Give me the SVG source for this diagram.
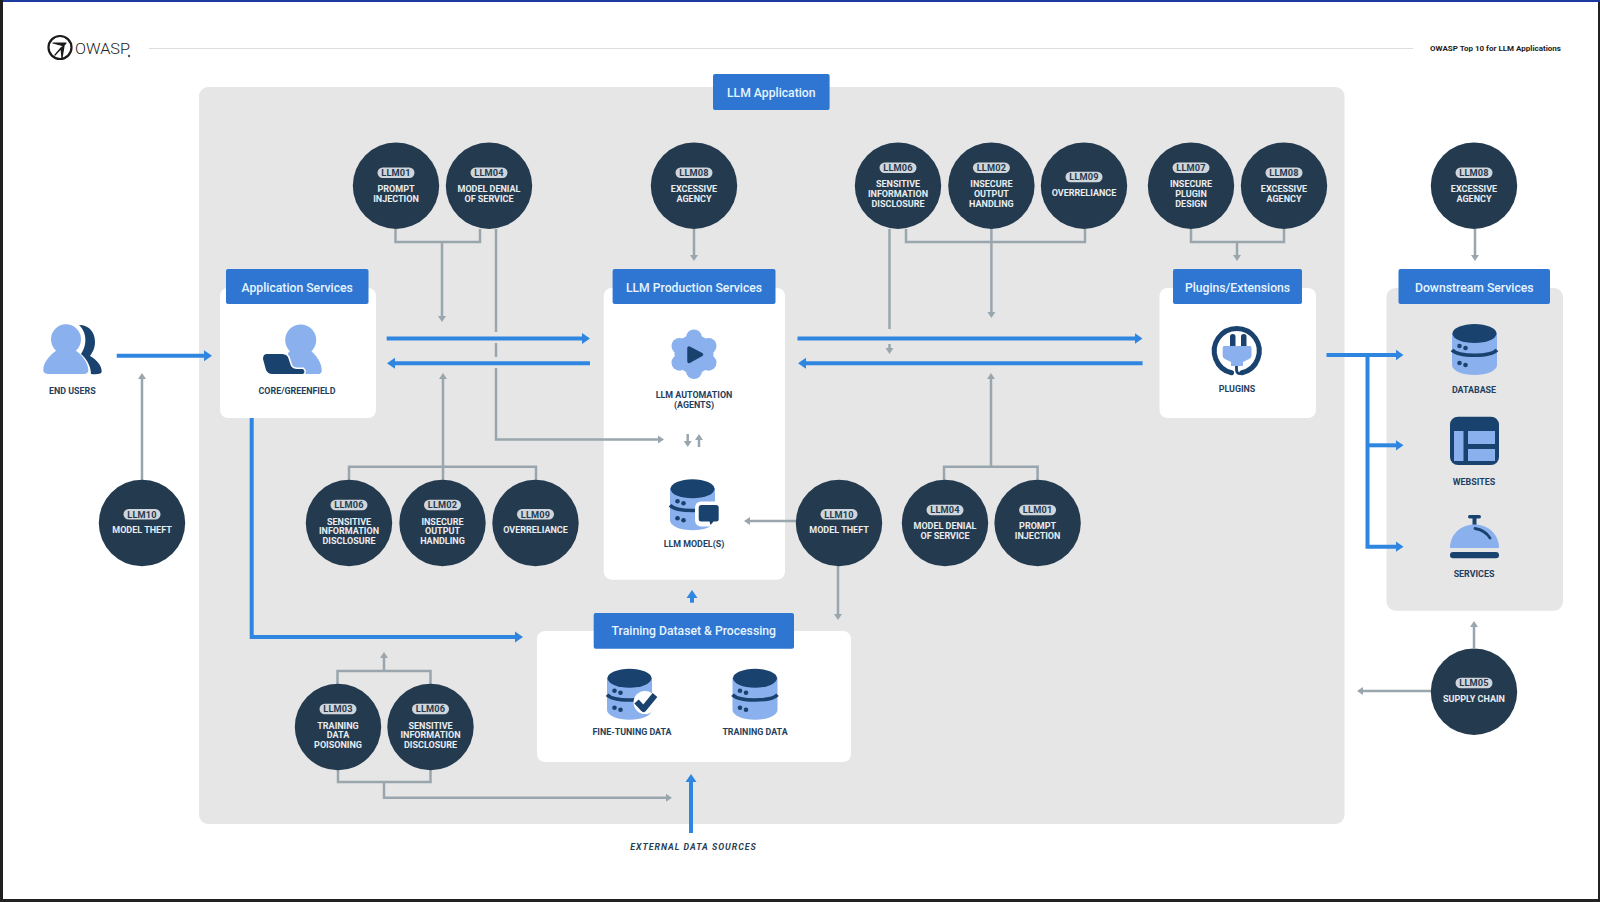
<svg xmlns="http://www.w3.org/2000/svg" xmlns:xlink="http://www.w3.org/1999/xlink" width="1600" height="902" viewBox="0 0 1600 902">
<style>
text{font-family:Roboto,"Liberation Sans",sans-serif;text-anchor:middle}
.risk{fill:#243a4f}
.pill{fill:#cfd5da}
.pt{font-size:9.2px;font-weight:700;fill:#243a4f;letter-spacing:.2px}
.rt{font-size:9px;font-weight:700;fill:#e9edf0}
.hd{fill:#2f76d2}
.ht{font-size:12.200px;font-weight:500;fill:#e6f4ff}
.card{fill:#fff}
.lb{font-size:8.9px;font-weight:700;fill:#1f3f60}
.g{fill:none;stroke:#9aa6ad;stroke-width:2.5}
.ga{marker-end:url(#ag)}
.b{fill:none;stroke:#2f86e0;stroke-width:4}
.ba{marker-end:url(#ab)}
.l{fill:#8ab0ee}
.d{fill:#1a426f}
</style>
<defs>
<marker id="ag" markerUnits="userSpaceOnUse" markerWidth="8" markerHeight="9" refX="1" refY="4.5" orient="auto"><path d="M0,0.5L6,4.5L0,8.5Z" fill="#9aa6ad"/></marker>
<marker id="ab" markerUnits="userSpaceOnUse" markerWidth="10" markerHeight="12" refX="1" refY="6" orient="auto"><path d="M0,0.5L8,6L0,11.5Z" fill="#2f86e0"/></marker>
<g id="db">
<path class="l" d="M-22.500,9V41C-22.500,47 -12,51 0,51C12,51 22.500,47 22.500,41V9Z"/>
<ellipse class="d" cx="0" cy="9.500" rx="22" ry="9.500"/>
<path d="M-22.500,26C-16,33 16,33 22.500,26" fill="none" stroke="#1a426f" stroke-width="3.600"/>
<circle class="d" cx="-15" cy="22" r="2.300"/><circle class="d" cx="-9" cy="24" r="2.300"/>
<circle class="d" cx="-15" cy="39" r="2.300"/><circle class="d" cx="-9" cy="41" r="2.300"/>
</g>
</defs>
<rect width="1600" height="902" fill="#fff"/>
<g id="frame">
<rect x="0" y="0" width="1600" height="2" fill="#1c3aa0"/>
<rect x="0" y="0" width="3" height="902" fill="#1f1f1f"/>
<rect x="0" y="899" width="1600" height="3" fill="#222"/>
<rect x="1598" y="2" width="2" height="900" fill="#222"/>
</g>
<g id="title-bar">
<circle cx="60" cy="47.500" r="11.500" fill="none" stroke="#1a1a1a" stroke-width="2.200"/>
<path d="M53,43H66L55,55L61,48L62,58L64,46Z" fill="#1a1a1a" stroke="#1a1a1a" stroke-width="1.200" stroke-linejoin="round"/>
<text x="102.500" y="54" textLength="55" lengthAdjust="spacingAndGlyphs" style="font-size:15px;font-weight:300;fill:#222">OWASP</text>
<circle cx="129" cy="56" r="1.200" fill="#555"/>
<path d="M149,48.500H1413" stroke="#ddd" stroke-width="1.200"/>
<text x="1495.500" y="51" style="font-size:8px;font-weight:700;fill:#222">OWASP Top 10 for LLM Applications</text>
</g>
<rect id="panel" x="199" y="87" width="1145.500" height="737" rx="9" fill="#e6e6e6"/>
<rect id="downstream-panel" x="1386.500" y="288" width="176.500" height="322.700" rx="9" fill="#e6e6e6"/>
<g id="app-card"><rect class="card" x="220" y="288" width="156" height="130" rx="8"/></g>
<g id="prod-card"><rect class="card" x="603.700" y="288" width="181.300" height="291.700" rx="8"/></g>
<g id="plug-card"><rect class="card" x="1159.500" y="288" width="156.500" height="130" rx="8"/></g>
<g id="train-card"><rect class="card" x="537" y="631" width="314" height="131" rx="8"/></g>

<g id="connectors">
<path class="g ga" d="M395.500,229V242H480V229M442,242V317"/>
<path class="g" d="M496,229V332M496,343V357"/>
<path class="g ga" d="M496,368V439.500H659"/>
<path class="g ga" d="M694,229V256"/>
<path class="g" d="M889.500,229V329"/>
<path class="g ga" d="M889.500,344V349"/>
<path class="g" d="M906,229V242H1085V229"/>
<path class="g ga" d="M991.400,229V313"/>
<path class="g" d="M1191,229V242H1284V229"/>
<path class="g ga" d="M1237,242V256"/>
<path class="g ga" d="M1475,229V256"/>
<path class="g ga" d="M142,480V378"/>
<path class="g" d="M349,480V466.700H536V480M443,466.700V480"/>
<path class="g ga" d="M443,466.700V378"/>
<path class="g" d="M944,480V466.700H1037.600V480"/>
<path class="g ga" d="M991,466.700V378"/>
<path class="g ga" d="M796,521H749"/>
<path class="g ga" d="M838,566V615"/>
<path class="g" d="M337.500,684V671H430.500V684"/>
<path class="g ga" d="M384,671V657"/>
<path class="g" d="M338,770V782H430.500V770"/>
<path class="g ga" d="M384,782V797.700H667"/>
<path class="g ga" d="M1474,648V626"/>
<path class="g ga" d="M1431,691H1362"/>
<path class="g ga" d="M687.700,434V442"/>
<path class="g ga" d="M699,447V439"/>
<path class="b ba" d="M116.700,355.700H205"/>
<path class="b ba" d="M386.700,338.500H583"/>
<path class="b ba" d="M590,363.300H394"/>
<path class="b ba" d="M797.500,338.500H1135.500"/>
<path class="b ba" d="M1142.600,363.300H805"/>
<path class="b ba" d="M1326.500,355H1396.500"/>
<path class="b ba" d="M1367.500,445.300H1396.500"/>
<path class="b ba" d="M1367.500,355V546.700H1396.500"/>
<path class="b ba" d="M251.700,418V637H516"/>
<path class="b ba" d="M692,602.700V597"/>
<path class="b ba" d="M691,833V781"/>
</g>

<g id="risk-llm01-a" transform="translate(396,185.700)"><circle class="risk" r="43.200"/><rect class="pill" x="-18.500" y="-18.200" width="37" height="10.500" rx="5.200"/><text class="pt" y="-9.700">LLM01</text><text class="rt" y="6.200">PROMPT</text><text class="rt" y="16.200">INJECTION</text></g>
<g id="risk-llm04-a" transform="translate(489,185.700)"><circle class="risk" r="43.200"/><rect class="pill" x="-18.500" y="-18.200" width="37" height="10.500" rx="5.200"/><text class="pt" y="-9.700">LLM04</text><text class="rt" y="6.200">MODEL DENIAL</text><text class="rt" y="16.200">OF SERVICE</text></g>
<g id="risk-llm08-a" transform="translate(694,185.700)"><circle class="risk" r="43.200"/><rect class="pill" x="-18.500" y="-18.200" width="37" height="10.500" rx="5.200"/><text class="pt" y="-9.700">LLM08</text><text class="rt" y="6.200">EXCESSIVE</text><text class="rt" y="16.200">AGENCY</text></g>
<g id="risk-llm06-a" transform="translate(898,185.700)"><circle class="risk" r="43.200"/><rect class="pill" x="-18.500" y="-23.200" width="37" height="10.500" rx="5.200"/><text class="pt" y="-14.700">LLM06</text><text class="rt" y="1.500">SENSITIVE</text><text class="rt" y="11.300">INFORMATION</text><text class="rt" y="21.200">DISCLOSURE</text></g>
<g id="risk-llm02-a" transform="translate(991.400,185.700)"><circle class="risk" r="43.200"/><rect class="pill" x="-18.500" y="-23.200" width="37" height="10.500" rx="5.200"/><text class="pt" y="-14.700">LLM02</text><text class="rt" y="1.500">INSECURE</text><text class="rt" y="11.300">OUTPUT</text><text class="rt" y="21.200">HANDLING</text></g>
<g id="risk-llm09-a" transform="translate(1084,185.700)"><circle class="risk" r="43.200"/><rect class="pill" x="-18.500" y="-14" width="37" height="10.500" rx="5.200"/><text class="pt" y="-5.500">LLM09</text><text class="rt" y="10.300">OVERRELIANCE</text></g>
<g id="risk-llm07" transform="translate(1191,185.700)"><circle class="risk" r="43.200"/><rect class="pill" x="-18.500" y="-23.200" width="37" height="10.500" rx="5.200"/><text class="pt" y="-14.700">LLM07</text><text class="rt" y="1.500">INSECURE</text><text class="rt" y="11.300">PLUGIN</text><text class="rt" y="21.200">DESIGN</text></g>
<g id="risk-llm08-b" transform="translate(1284,185.700)"><circle class="risk" r="43.200"/><rect class="pill" x="-18.500" y="-18.200" width="37" height="10.500" rx="5.200"/><text class="pt" y="-9.700">LLM08</text><text class="rt" y="6.200">EXCESSIVE</text><text class="rt" y="16.200">AGENCY</text></g>
<g id="risk-llm08-c" transform="translate(1474,185.700)"><circle class="risk" r="43.200"/><rect class="pill" x="-18.500" y="-18.200" width="37" height="10.500" rx="5.200"/><text class="pt" y="-9.700">LLM08</text><text class="rt" y="6.200">EXCESSIVE</text><text class="rt" y="16.200">AGENCY</text></g>
<g id="risk-llm10-a" transform="translate(142,523)"><circle class="risk" r="43.200"/><rect class="pill" x="-18.500" y="-14" width="37" height="10.500" rx="5.200"/><text class="pt" y="-5.500">LLM10</text><text class="rt" y="10.300">MODEL THEFT</text></g>
<g id="risk-llm06-b" transform="translate(349,523)"><circle class="risk" r="43.200"/><rect class="pill" x="-18.500" y="-23.200" width="37" height="10.500" rx="5.200"/><text class="pt" y="-14.700">LLM06</text><text class="rt" y="1.500">SENSITIVE</text><text class="rt" y="11.300">INFORMATION</text><text class="rt" y="21.200">DISCLOSURE</text></g>
<g id="risk-llm02-b" transform="translate(442.500,523)"><circle class="risk" r="43.200"/><rect class="pill" x="-18.500" y="-23.200" width="37" height="10.500" rx="5.200"/><text class="pt" y="-14.700">LLM02</text><text class="rt" y="1.500">INSECURE</text><text class="rt" y="11.300">OUTPUT</text><text class="rt" y="21.200">HANDLING</text></g>
<g id="risk-llm09-b" transform="translate(535.500,523)"><circle class="risk" r="43.200"/><rect class="pill" x="-18.500" y="-14" width="37" height="10.500" rx="5.200"/><text class="pt" y="-5.500">LLM09</text><text class="rt" y="10.300">OVERRELIANCE</text></g>
<g id="risk-llm10-b" transform="translate(839,523)"><circle class="risk" r="43.200"/><rect class="pill" x="-18.500" y="-14" width="37" height="10.500" rx="5.200"/><text class="pt" y="-5.500">LLM10</text><text class="rt" y="10.300">MODEL THEFT</text></g>
<g id="risk-llm04-b" transform="translate(945,523)"><circle class="risk" r="43.200"/><rect class="pill" x="-18.500" y="-18.200" width="37" height="10.500" rx="5.200"/><text class="pt" y="-9.700">LLM04</text><text class="rt" y="6.200">MODEL DENIAL</text><text class="rt" y="16.200">OF SERVICE</text></g>
<g id="risk-llm01-b" transform="translate(1037.600,523)"><circle class="risk" r="43.200"/><rect class="pill" x="-18.500" y="-18.200" width="37" height="10.500" rx="5.200"/><text class="pt" y="-9.700">LLM01</text><text class="rt" y="6.200">PROMPT</text><text class="rt" y="16.200">INJECTION</text></g>
<g id="risk-llm03" transform="translate(338,727)"><circle class="risk" r="43.200"/><rect class="pill" x="-18.500" y="-23.200" width="37" height="10.500" rx="5.200"/><text class="pt" y="-14.700">LLM03</text><text class="rt" y="1.500">TRAINING</text><text class="rt" y="11.300">DATA</text><text class="rt" y="21.200">POISONING</text></g>
<g id="risk-llm06-c" transform="translate(430.500,727)"><circle class="risk" r="43.200"/><rect class="pill" x="-18.500" y="-23.200" width="37" height="10.500" rx="5.200"/><text class="pt" y="-14.700">LLM06</text><text class="rt" y="1.500">SENSITIVE</text><text class="rt" y="11.300">INFORMATION</text><text class="rt" y="21.200">DISCLOSURE</text></g>
<g id="risk-llm05" transform="translate(1474,691.700)"><circle class="risk" r="43.200"/><rect class="pill" x="-18.500" y="-14" width="37" height="10.500" rx="5.200"/><text class="pt" y="-5.500">LLM05</text><text class="rt" y="10.300">SUPPLY CHAIN</text></g>

<g id="h-app"><rect class="hd" x="226" y="269" width="142.500" height="35" rx="2"/><text class="ht" x="297.200" y="291.500">Application Services</text></g>
<g id="h-llm"><rect class="hd" x="713" y="74" width="116.600" height="36" rx="2"/><text class="ht" x="771.300" y="97">LLM Application</text></g>
<g id="h-prod"><rect class="hd" x="612.600" y="269" width="162.900" height="35" rx="2"/><text class="ht" x="694" y="291.500">LLM Production Services</text></g>
<g id="h-plug"><rect class="hd" x="1173" y="269" width="129" height="35" rx="2"/><text class="ht" x="1237.500" y="291.500">Plugins/Extensions</text></g>
<g id="h-down"><rect class="hd" x="1398.500" y="269" width="151.500" height="35" rx="2"/><text class="ht" x="1474.300" y="291.500">Downstream Services</text></g>
<g id="h-train"><rect class="hd" x="593.700" y="613" width="200.300" height="35.700" rx="2"/><text class="ht" x="693.800" y="634.500">Training Dataset &amp; Processing</text></g>

<g id="end-users">
<path class="d" d="M79,325C90,325 95,333 95,342C95,349 92,353 90,356C97,360 102,366 101.700,372C101,374 97,374.500 91,374C91,366 86,358 81,354C85,348 86,342 85,336C84,331 82,328 79,325Z"/>
<circle class="l" cx="66" cy="339.300" r="15"/>
<path class="l" d="M57,350C50,355 43.300,362 43.300,370C43.300,373 46,374 49,374H83C86,374 88.500,373 88.300,370C88,362 82,355 75,350Z"/>
<text class="lb" x="72.300" y="394">END USERS</text>
</g>
<g id="core">
<circle class="l" cx="300.700" cy="340" r="15.500"/>
<path class="l" d="M291,350C285,356 282,364 284,374H318C321,374 322,372 321.700,369C321,362 316,355 310,350Z"/>
<path class="d" d="M267,354H282Q288,354 289,360L291,366Q293,369 297,369H303Q306,372 303,374H272Q268,374 266,370L263,359Q263,354 267,354Z" stroke="#fff" stroke-width="3" paint-order="stroke"/>
<text class="lb" x="297" y="394">CORE/GREENFIELD</text>
</g>
<g id="llm-automation">
<g class="l"><circle cx="694" cy="354.300" r="19.500"/><circle cx="694" cy="337.500" r="8"/><circle cx="694" cy="371" r="8"/><circle cx="708.500" cy="346" r="8"/><circle cx="679.500" cy="346" r="8"/><circle cx="708.500" cy="362.700" r="8"/><circle cx="679.500" cy="362.700" r="8"/></g>
<path class="d" d="M689,348L701.500,354.500L689,361.500Z" stroke="#1a426f" stroke-width="3.500" stroke-linejoin="round"/>
<text class="lb" x="694" y="398">LLM AUTOMATION</text><text class="lb" x="694" y="408">(AGENTS)</text>
</g>
<g id="llm-models">
<use xlink:href="#db" href="#db" x="692.500" y="479.300"/>
<rect x="695" y="501.500" width="27" height="25" rx="6" fill="#fff"/>
<path class="d" d="M701,505H716Q718.700,505 718.700,507.500V519Q718.700,521.500 716,521.500H713.500L710.500,525L709.500,521.500H701Q698.700,521.500 698.700,519V507.500Q698.700,505 701,505Z"/>
<text class="lb" x="694" y="547">LLM MODEL(S)</text>
</g>
<g id="plugins">
<path d="M1231.500,372.800A22.500,22.500 0 1 1 1242,372.800" fill="none" stroke="#1a426f" stroke-width="5" stroke-linecap="round"/>
<path d="M1236.500,365V370Q1237,375 1242,373" fill="none" stroke="#1a426f" stroke-width="2.800"/>
<rect class="d" x="1230" y="334" width="5.500" height="15" rx="2.700"/><rect class="d" x="1241" y="334" width="5.500" height="15" rx="2.700"/>
<path class="l" d="M1224,346H1250Q1251.500,346 1251.500,348V356Q1251.500,358 1249,359L1243,362V366H1231V362L1225,359Q1222.700,358 1222.700,356V348Q1222.700,346 1224,346Z"/>
<text class="lb" x="1237" y="392">PLUGINS</text>
</g>
<g id="database"><use xlink:href="#db" href="#db" x="1474.500" y="324"/><text class="lb" x="1474" y="392.500">DATABASE</text></g>
<g id="websites">
<rect class="d" x="1450" y="416.700" width="49" height="48.300" rx="8"/>
<rect class="l" x="1454" y="431" width="9.500" height="30"/><rect class="l" x="1468" y="431" width="27" height="13"/><rect class="l" x="1468" y="449" width="27" height="12"/>
<text class="lb" x="1474" y="484.500">WEBSITES</text>
</g>
<g id="services">
<rect class="d" x="1468" y="515" width="13" height="3.500" rx="1.700"/><rect class="d" x="1472.500" y="517" width="4" height="8"/>
<path class="l" d="M1450,548C1450,534 1461,524.500 1474.500,524.500C1488,524.500 1499,534 1499,548Z"/>
<path d="M1475,528.500Q1485,530 1490,538" fill="none" stroke="#1a426f" stroke-width="2.800" stroke-linecap="round"/>
<rect class="d" x="1450" y="552" width="49" height="6.300" rx="3"/>
<text class="lb" x="1474" y="577">SERVICES</text>
</g>
<g id="fine-tuning">
<use xlink:href="#db" href="#db" x="629.500" y="668.700"/>
<circle cx="645" cy="702.500" r="11.500" fill="#fff"/>
<path d="M636.500,701.500L643.500,709L655,695" fill="none" stroke="#1a426f" stroke-width="6" stroke-linejoin="round"/>
<text class="lb" x="632" y="735">FINE-TUNING DATA</text>
</g>
<g id="training-data"><use xlink:href="#db" href="#db" x="755" y="668.700"/><text class="lb" x="755" y="735">TRAINING DATA</text></g>
<g id="external"><text x="693.500" y="850" style="font-size:8.8px;font-weight:700;font-style:italic;fill:#2b3f52;letter-spacing:1px">EXTERNAL DATA SOURCES</text></g>
</svg>
